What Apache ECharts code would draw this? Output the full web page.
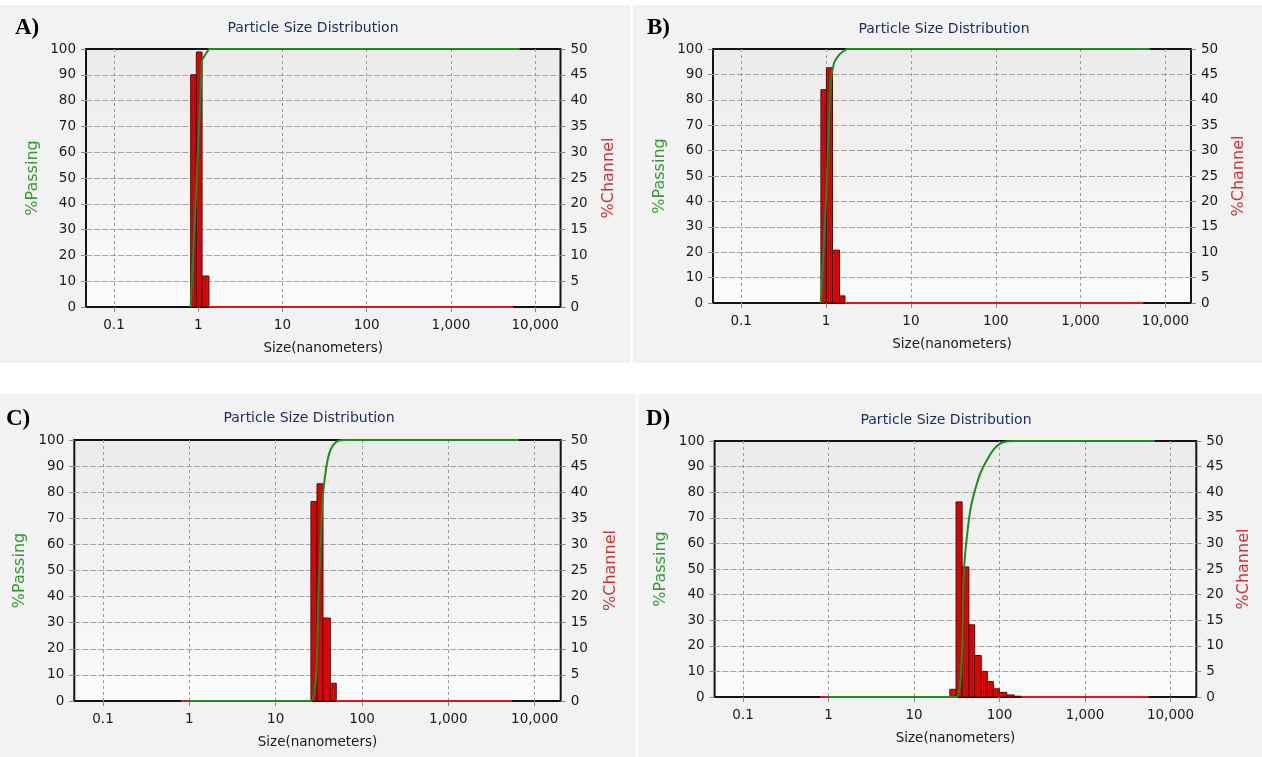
<!DOCTYPE html>
<html>
<head>
<meta charset="utf-8">
<script src="https://cdn.jsdelivr.net/npm/echarts@6/dist/echarts.min.js"></script>
<style>
  html, body { margin: 0; padding: 0; background: #ffffff; }
  #chart { width: 1262px; height: 757px; }
</style>
</head>
<body>
<div id="chart"></div>
<script>
// Size axis (nanometers, log scale)
const sizeMin = 0.0465;
const sizeMax = 20000;
const sizeTicks = [0.1, 1, 10, 100, 1000, 10000];
const sizeTickLabels = ['0.1', '1', '10', '100', '1,000', '10,000'];

// Sample A: channel bin edges (nm), %channel per bin, cumulative %passing
const edgesA = [0.813, 0.949, 1.11, 1.34];
const channelA = [45, 49.4, 6.0];
const passSizeA = [0.813, 0.942, 1.109, 1.34, 6540];
const passA = [0, 44.1, 95.7, 100, 100];
const zeroSizeA = [[1.34, 5500]];

// Sample B
const edgesB = [0.87, 1.01, 1.19, 1.44, 1.67];
const channelB = [42, 46.3, 10.4, 1.4];
const passSizeB = [0.87, 1.01, 1.134, 1.24, 1.42, 1.63, 1.79, 6540];
const passB = [0, 44.5, 86.5, 94.4, 97.6, 99.3, 100, 100];
const zeroSizeB = [[1.67, 5500]];

// Sample C
const edgesC = [25.6, 30.1, 35.3, 42.9, 50.3];
const channelC = [38.2, 41.6, 15.9, 3.4];
const passSizeC = [1.0, 25.5, 31.4, 34.9, 38.7, 43.1, 50.4, 59.2, 6540];
const passC = [0, 0, 42.5, 77, 89.8, 96.2, 99.3, 100, 100];
const zeroSizeC = [[0.8, 25.6], [50.3, 5500]];

// Sample D
const edgesD = [26.2, 31.0, 36.5, 43.8, 51.2, 61.1, 71.9, 84.6, 99.6, 121.6, 148, 179];
const channelD = [1.5, 38.1, 25.4, 14.1, 8.1, 5.0, 3.0, 1.6, 0.9, 0.4, 0.15];
const passSizeD = [1.0, 31.2, 38.5, 42.3, 46.2, 52.9, 60.6, 72.6, 86.9, 104, 125, 150, 6540];
const passD = [0, 0, 50.8, 65.1, 74.2, 82, 87.9, 93.1, 97, 99.2, 99.9, 100, 100];
const zeroSizeD = [[0.8, 26.2], [179, 5500]];

const panelLetters = ['A)', 'B)', 'C)', 'D)'];
const chartTitle = 'Particle Size Distribution';

const samples = [
  { edges: edgesA, channel: channelA, passSize: passSizeA, pass: passA, zero: zeroSizeA, smooth: false },
  { edges: edgesB, channel: channelB, passSize: passSizeB, pass: passB, zero: zeroSizeB, smooth: 0.25 },
  { edges: edgesC, channel: channelC, passSize: passSizeC, pass: passC, zero: zeroSizeC, smooth: 0.25 },
  { edges: edgesD, channel: channelD, passSize: passSizeD, pass: passD, zero: zeroSizeD, smooth: 0.3 }
];

// Page layout of the four panels
const layout = [
  { bg: [0, 5, 630, 358],    grid: [86, 49, 474.5, 258],  title: [313, 28],  letter: [15, 28],
    nameGapL: 45, nameGapR: 40 },
  { bg: [633, 5, 629, 358],  grid: [713, 49, 478, 254],   title: [944, 29],  letter: [647, 28],
    nameGapL: 45, nameGapR: 40 },
  { bg: [0, 394, 636, 363],  grid: [74.3, 440, 486.4, 261], title: [309, 418], letter: [6, 419],
    nameGapL: 46, nameGapR: 42 },
  { bg: [638, 394, 624, 363], grid: [714.6, 441, 481.7, 256], title: [946, 420], letter: [646, 419],
    nameGapL: 46, nameGapR: 40 }
];

const uiFont = 'DejaVu Sans';
const tickColor = '#1a1a1a';

function sizeLabel(v) {
  const k = sizeTicks.findIndex(t => Math.abs(Math.log10(v) - Math.log10(t)) < 1e-6);
  return k < 0 ? '' : sizeTickLabels[k];
}

function renderBar(params, api) {
  const lo = api.value(0), hi = api.value(1), val = api.value(2);
  const p0 = api.coord([lo, 0]);
  const p1 = api.coord([hi, val]);
  const x = p0[0], w = p1[0] - p0[0], y = p1[1], h = p0[1] - p1[1];
  return {
    type: 'group',
    children: [
      { type: 'rect', shape: { x: x, y: y, width: w, height: h },
        style: { fill: '#e80808', stroke: '#4a0a0a', lineWidth: 1 } },
      { type: 'line', shape: { x1: x + w / 3, y1: y + 1, x2: x + w / 3, y2: y + h },
        style: { stroke: 'rgba(120,0,0,0.35)', lineWidth: 1 } },
      { type: 'line', shape: { x1: x + 2 * w / 3, y1: y + 1, x2: x + 2 * w / 3, y2: y + h },
        style: { stroke: 'rgba(120,0,0,0.35)', lineWidth: 1 } }
    ]
  };
}

const grids = [], xAxes = [], yAxes = [], series = [], graphics = [];

samples.forEach((s, i) => {
  const L = layout[i];
  grids.push({
    left: L.grid[0], top: L.grid[1], width: L.grid[2], height: L.grid[3],
    show: true, borderColor: '#141414', borderWidth: 2,
    backgroundColor: {
      type: 'linear', x: 0, y: 0, x2: 0, y2: 1,
      colorStops: [{ offset: 0, color: '#ebebeb' }, { offset: 1, color: '#fbfbfb' }]
    }
  });
  xAxes.push({
    type: 'log', logBase: 10, gridIndex: i, min: sizeMin, max: sizeMax,
    name: 'Size(nanometers)', nameLocation: 'middle', nameGap: 34,
    nameTextStyle: { color: tickColor, fontFamily: uiFont, fontSize: 13.5 },
    axisLine: { show: false },
    axisTick: { show: true, length: 5, lineStyle: { color: '#8a8a8a' } },
    axisLabel: { margin: 11, color: tickColor, fontFamily: uiFont, fontSize: 13.5,
                 formatter: sizeLabel, showMinLabel: false, showMaxLabel: false },
    splitLine: { show: true, showMinLine: false, showMaxLine: false,
                 lineStyle: { color: '#9a9a9a', width: 1, type: [3, 3] } }
  });
  yAxes.push({
    type: 'value', gridIndex: i, position: 'left', min: 0, max: 100, interval: 10,
    name: '%Passing', nameLocation: 'middle', nameRotate: 90, nameGap: L.nameGapL,
    nameTextStyle: { color: '#379837', fontFamily: uiFont, fontSize: 16 },
    axisLine: { show: false },
    axisTick: { show: true, length: 5, lineStyle: { color: '#8a8a8a' } },
    axisLabel: { margin: 10, color: tickColor, fontFamily: uiFont, fontSize: 13.5 },
    splitLine: { show: true, showMinLine: false, showMaxLine: false,
                 lineStyle: { color: '#a4a4a4', width: 1, type: [6, 2] } }
  });
  yAxes.push({
    type: 'value', gridIndex: i, position: 'right', min: 0, max: 50, interval: 5,
    name: '%Channel', nameLocation: 'middle', nameRotate: 90, nameGap: L.nameGapR,
    nameTextStyle: { color: '#c83434', fontFamily: uiFont, fontSize: 16 },
    axisLine: { show: false },
    axisTick: { show: true, length: 5, lineStyle: { color: '#8a8a8a' } },
    axisLabel: { margin: 10, color: tickColor, fontFamily: uiFont, fontSize: 13.5 },
    splitLine: { show: false }
  });

  // histogram of %channel
  const bars = s.channel.map((v, k) => [s.edges[k], s.edges[k + 1], v]);
  series.push({
    type: 'custom', xAxisIndex: i, yAxisIndex: 2 * i + 1,
    data: bars, encode: { x: [0, 1], y: 2 }, renderItem: renderBar, clip: true, z: 3
  });
  // zero-channel baseline
  s.zero.forEach(seg => {
    series.push({
      type: 'line', xAxisIndex: i, yAxisIndex: 2 * i + 1, symbol: 'none', silent: true,
      data: [[seg[0], 0], [seg[1], 0]],
      lineStyle: { color: '#d41c1c', width: 2 }, z: 4
    });
  });
  // cumulative %passing
  series.push({
    type: 'line', xAxisIndex: i, yAxisIndex: 2 * i, symbol: 'none', silent: true,
    smooth: s.smooth,
    data: s.passSize.map((x, k) => [x, s.pass[k]]),
    lineStyle: { color: '#1f8a1f', width: 2 }, z: 5
  });

  graphics.push({
    type: 'rect', z: -10, silent: true,
    shape: { x: L.bg[0], y: L.bg[1], width: L.bg[2], height: L.bg[3] },
    style: { fill: '#f2f2f2' }
  });
  graphics.push({
    type: 'text', z: 10, x: L.title[0], y: L.title[1],
    style: { text: chartTitle, fill: '#1d2a5c', font: '14px "DejaVu Sans"',
             align: 'center', verticalAlign: 'middle' }
  });
  graphics.push({
    type: 'text', z: 10, x: L.letter[0], y: L.letter[1],
    style: { text: panelLetters[i], fill: '#000000', font: 'bold 23px "Liberation Serif"',
             align: 'left', verticalAlign: 'middle' }
  });
});

const chart = echarts.init(document.getElementById('chart'), null, { renderer: 'canvas' });
chart.setOption({
  animation: false,
  backgroundColor: '#ffffff',
  grid: grids,
  xAxis: xAxes,
  yAxis: yAxes,
  series: series,
  graphic: graphics
});
</script>
</body>
</html>
